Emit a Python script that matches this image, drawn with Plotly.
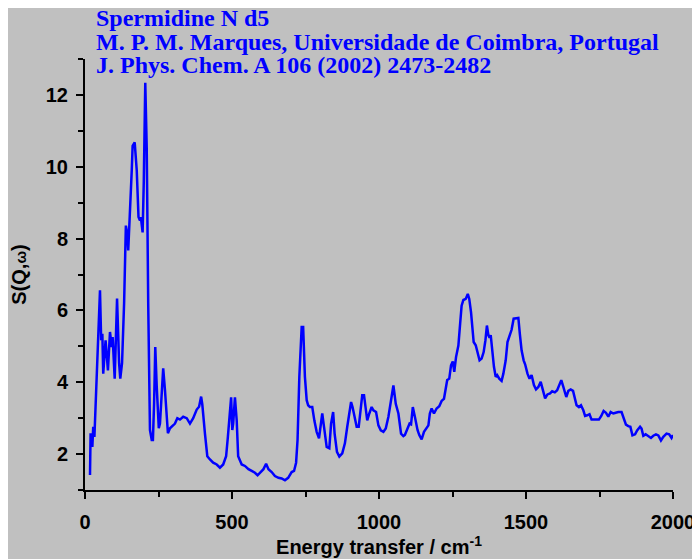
import plotly.graph_objects as go

# Spermidine N d5 INS spectrum
energy_cm = [
    17, 19, 25, 28, 32, 34, 40, 45, 51, 55, 59, 62, 70, 78, 85, 91, 94, 101,
    109, 116, 120, 126, 133, 139, 144, 147, 151, 159, 162, 169, 176, 182, 187,
    190, 196, 200, 205, 210, 215, 221, 227, 231, 235, 239, 244, 251, 255, 262,
    266, 272, 278, 282, 289, 306, 314, 323, 334, 346, 357, 368, 380, 388, 395,
    399, 408, 416, 425, 436, 448, 459, 470, 480, 486, 491, 497, 501, 504, 510,
    516, 521, 533, 544, 556, 567, 578, 587, 598, 607, 616, 624, 635, 646, 658,
    669, 680, 691, 703, 711, 718, 723, 729, 737, 742, 748, 754, 759, 765, 773,
    780, 788, 796, 802, 807, 813, 822, 831, 837, 844, 849, 857, 865, 875, 884,
    892, 898, 905, 910, 916, 924, 931, 937, 943, 949, 953, 960, 967, 975, 981,
    990, 998, 1006, 1015, 1023, 1032, 1040, 1049, 1057, 1066, 1075, 1083,
    1088, 1097, 1104, 1109, 1115, 1122, 1131, 1137, 1145, 1153, 1162, 1168,
    1173, 1179, 1187, 1196, 1205, 1213, 1221, 1227, 1232, 1239, 1245, 1251,
    1256, 1262, 1270, 1276, 1281, 1287, 1295, 1302, 1307, 1313, 1317, 1322,
    1329, 1336, 1342, 1349, 1356, 1362, 1367, 1372, 1376, 1380, 1385, 1391,
    1397, 1402, 1409, 1417, 1423, 1431, 1437, 1445, 1451, 1458, 1466, 1474,
    1479, 1485, 1492, 1497, 1505, 1512, 1519, 1527, 1534, 1542, 1550, 1557,
    1565, 1573, 1582, 1589, 1598, 1606, 1613, 1620, 1627, 1637, 1644, 1652,
    1660, 1666, 1672, 1680, 1687, 1695, 1701, 1708, 1716, 1723, 1731, 1739,
    1748, 1756, 1764, 1772, 1780, 1788, 1797, 1805, 1814, 1825, 1833, 1840,
    1848, 1855, 1862, 1871, 1878, 1888, 1893, 1899, 1907, 1916, 1925, 1933,
    1942, 1950, 1959, 1967, 1978, 1987, 1995, 2000,
]
s_q_w = [
    1.42, 2.58, 2.20, 2.76, 2.48, 2.94, 4.33, 5.63, 6.56, 5.17, 5.35, 4.24,
    5.17, 4.33, 5.40, 4.98, 5.26, 4.10, 6.33, 4.53, 4.10, 4.53, 6.20, 8.36,
    8.13, 7.67, 8.31, 9.90, 10.58, 10.68, 9.90, 8.60, 8.50, 8.60, 8.17, 9.60,
    12.34, 10.50, 6.20, 2.67, 2.39, 2.39, 3.40, 4.98, 3.87, 2.72, 2.85, 3.87,
    4.39, 3.78, 2.94, 2.58, 2.72, 2.85, 3.00, 2.96, 3.04, 3.00, 2.85, 3.00,
    3.24, 3.32, 3.60, 3.38, 2.57, 1.94, 1.85, 1.76, 1.71, 1.62, 1.71, 1.94,
    2.48, 3.03, 3.58, 2.67, 2.85, 3.58, 2.94, 1.94, 1.71, 1.67, 1.58, 1.53,
    1.48, 1.41, 1.50, 1.58, 1.73, 1.58, 1.50, 1.39, 1.34, 1.32, 1.27, 1.34,
    1.50, 1.53, 1.76, 2.40, 4.15, 5.54, 5.54, 4.15, 3.50, 3.36, 3.31, 3.31,
    2.94, 2.62, 2.44, 2.85, 3.13, 2.76, 2.20, 2.16, 2.85, 3.17, 2.57, 2.06,
    1.93, 2.02, 2.30, 2.76, 3.04, 3.45, 3.31, 3.04, 2.76, 2.76, 3.22, 3.64,
    3.64, 3.31, 2.94, 3.13, 3.31, 3.22, 3.17, 2.80, 2.66, 2.62, 2.71, 3.04,
    3.45, 3.91, 3.40, 3.13, 2.57, 2.50, 2.53, 2.71, 2.85, 2.83, 3.31, 3.04,
    2.67, 2.53, 2.41, 2.62, 2.71, 2.80, 3.13, 3.27, 3.13, 3.27, 3.33, 3.48,
    3.54, 3.78, 4.06, 4.10, 4.47, 4.58, 4.29, 4.70, 5.02, 5.63, 6.13, 6.29,
    6.32, 6.46, 6.32, 5.95, 5.54, 5.12, 5.03, 4.75, 4.61, 4.66, 4.84, 5.17,
    5.58, 5.31, 5.24, 5.31, 4.89, 4.43, 4.15, 4.20, 4.10, 4.04, 4.24, 4.61,
    5.12, 5.35, 5.46, 5.77, 5.78, 5.79, 5.35, 4.89, 4.61, 4.50, 4.24, 4.10,
    4.20, 3.92, 3.80, 3.87, 4.01, 3.78, 3.55, 3.66, 3.69, 3.75, 3.72, 3.78,
    3.92, 4.06, 3.87, 3.59, 3.76, 3.80, 3.76, 3.55, 3.36, 3.31, 3.36, 3.22,
    3.06, 3.08, 3.11, 2.96, 2.96, 2.94, 2.96, 3.06, 3.20, 3.15, 3.04, 3.17,
    3.13, 3.15, 3.17, 3.17, 2.99, 2.82, 2.78, 2.76, 2.52, 2.55, 2.66, 2.76,
    2.71, 2.51, 2.55, 2.49, 2.45, 2.51, 2.55, 2.52, 2.38, 2.48, 2.57, 2.55,
    2.45, 2.53,
]

title_lines = [
    "Spermidine N d5",
    "M. P. M. Marques, Universidade de Coimbra, Portugal",
    "J. Phys. Chem. A 106 (2002) 2473-2482",
]
title_y = [1.0951, 1.0406, 0.9861]

BG = '#c0c0c0'
BLUE = '#0000ff'

fig = go.Figure()
fig.add_trace(go.Scatter(
    x=energy_cm, y=s_q_w,
    mode='lines',
    line=dict(color=BLUE, width=2.5),
    showlegend=False,
))

# title block: three left-aligned serif lines
for txt, ty in zip(title_lines, title_y):
    fig.add_annotation(
        text=f"<b>{txt}</b>",
        xref='paper', yref='paper',
        x=0.0153, y=ty,
        xanchor='left', yanchor='middle',
        showarrow=False,
        font=dict(family='Liberation Serif, Times New Roman, serif', size=24, color=BLUE),
    )

axis_font = dict(family='Liberation Sans, Arial, sans-serif', size=20, color='black', weight='bold')

fig.update_xaxes(
    range=[0, 2000],
    tick0=0, dtick=500,
    ticks='outside', ticklen=7, tickwidth=2, tickcolor='black',
    minor=dict(dtick=250, ticks='outside', ticklen=5, tickwidth=2, tickcolor='black'),
    showline=True, linewidth=2, linecolor='black',
    showgrid=False, zeroline=False, automargin=False,
    tickfont=axis_font, ticklabelstandoff=6,
    title=dict(text="<b>Energy transfer / cm<sup>-1</sup></b>", font=axis_font, standoff=4),
)
fig.update_yaxes(
    range=[1, 13],
    tick0=2, dtick=2,
    ticks='outside', ticklen=7, tickwidth=2, tickcolor='black',
    minor=dict(dtick=1, ticks='outside', ticklen=5, tickwidth=2, tickcolor='black'),
    showline=True, linewidth=2, linecolor='black',
    showgrid=False, zeroline=False, automargin=False,
    tickfont=axis_font, ticklabelstandoff=4,
    title=dict(text="<b>S(Q,</b><span style='font-size:15px'>ω</span><b>)</b>",
               font=axis_font, standoff=16),
)

fig.update_layout(
    width=700, height=559,
    paper_bgcolor=BG,
    plot_bgcolor=BG,
    margin=dict(l=77, r=35, t=51, b=77),
)

fig.write_html("out.html")
